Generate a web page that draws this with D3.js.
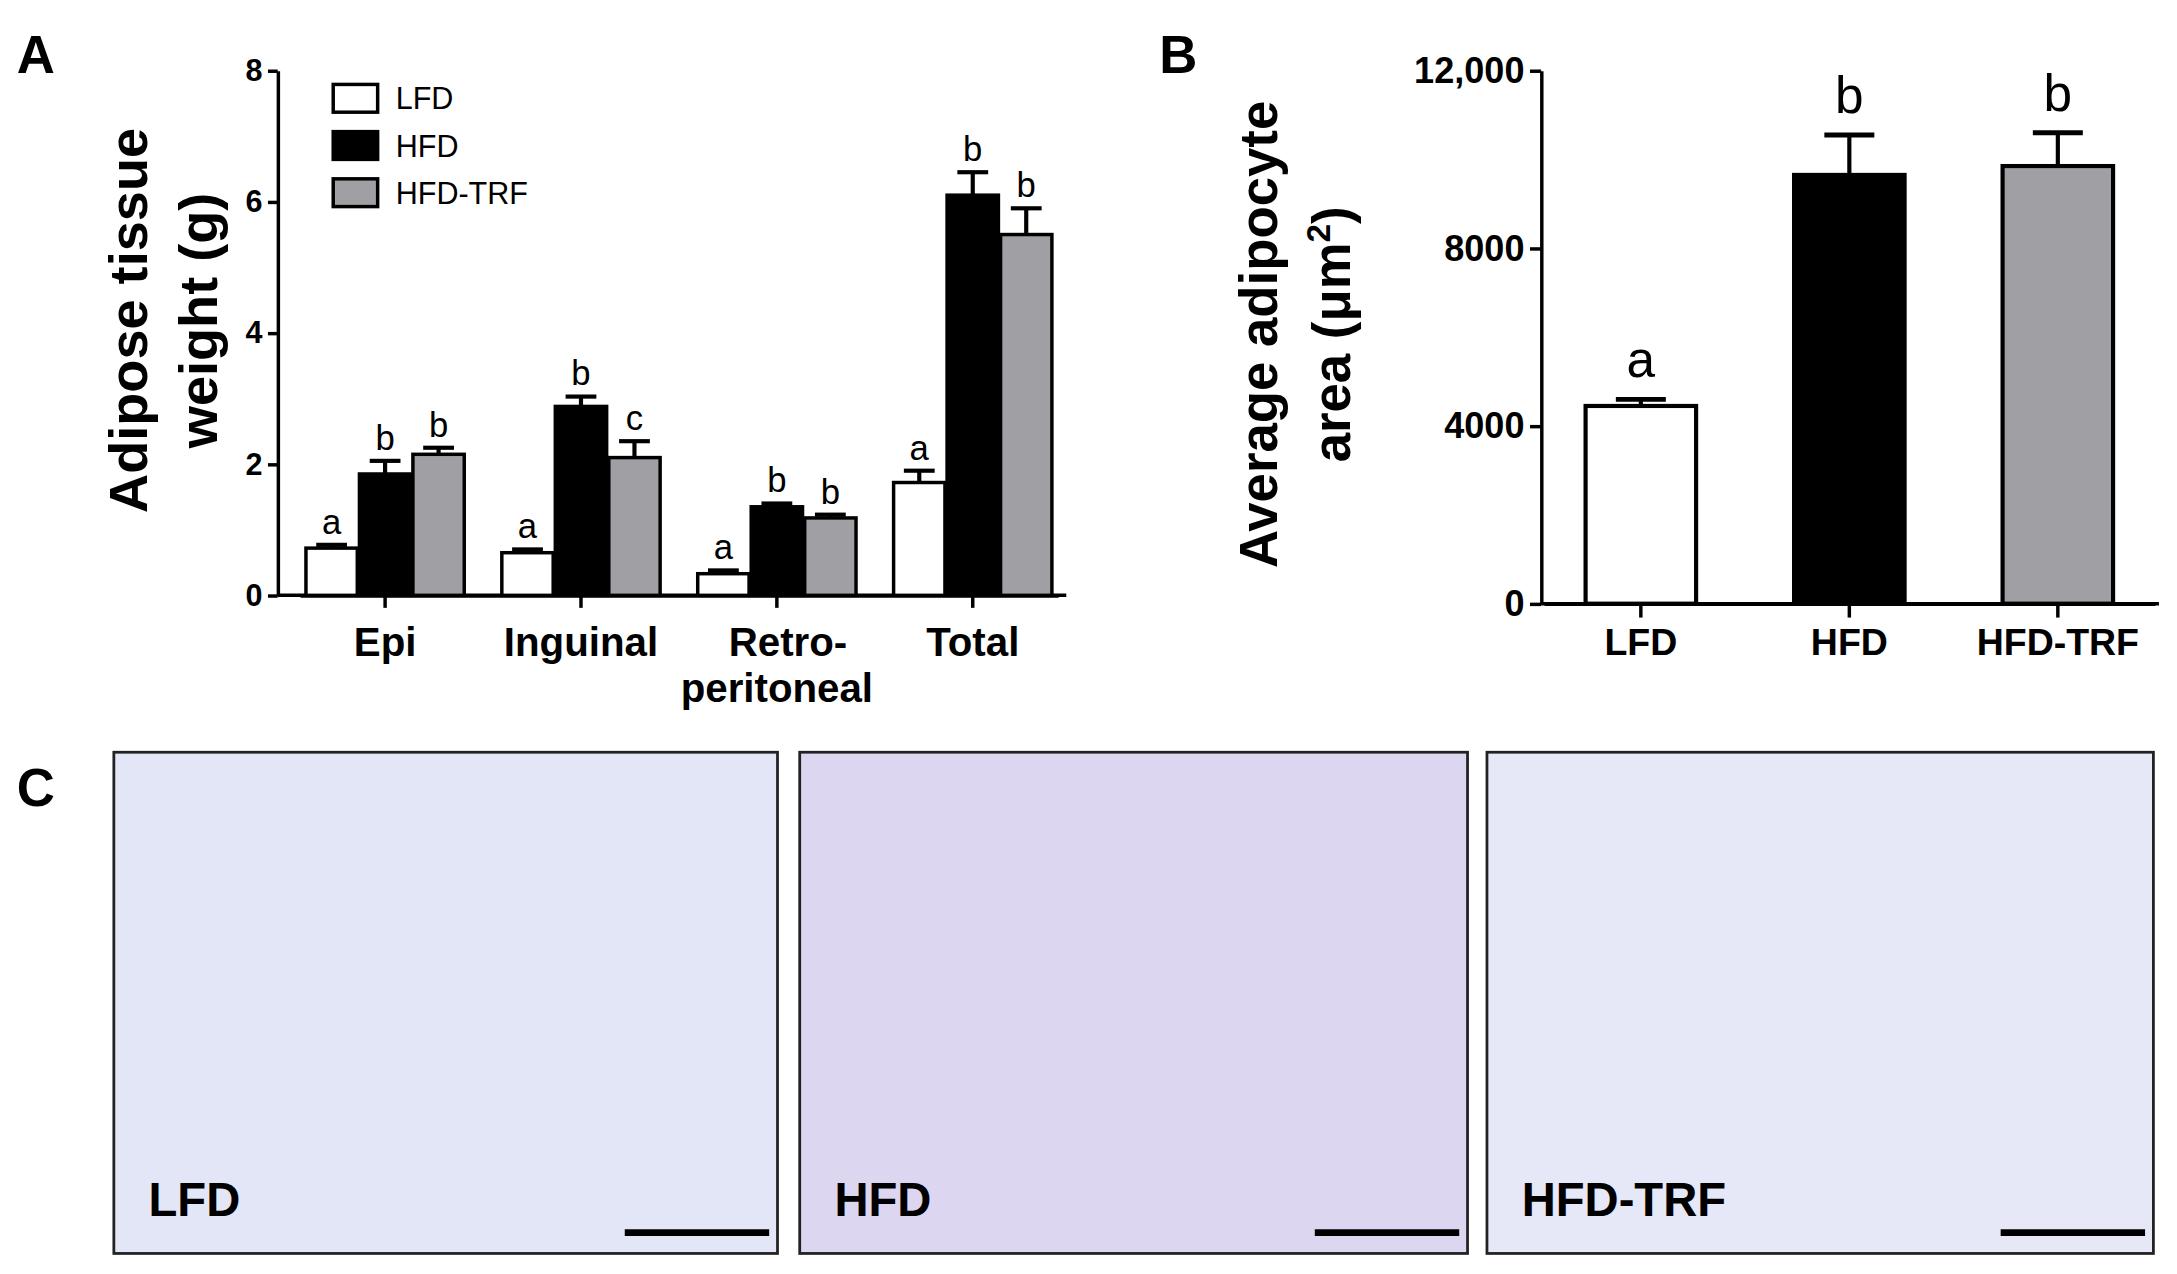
<!DOCTYPE html>
<html>
<head>
<meta charset="utf-8">
<script src="https://d3js.org/d3.v7.min.js"></script>
<style>
  body { margin: 0; background: #fff; }
  text { font-family: "Liberation Sans", Arial, sans-serif; }
</style>
</head>
<body>
<script>
// panel A data
const regions = ["Epi", "Inguinal", "Retro", "Total"];
const groups = ["LFD", "HFD", "HFD-TRF"];
const weightLFD = [0.72, 0.65, 0.33, 1.72];
const weightHFD = [1.85, 2.88, 1.35, 6.1];
const weightTRF = [2.15, 2.1, 1.18, 5.5];
const errLFD = [0.05, 0.05, 0.05, 0.18];
const errHFD = [0.2, 0.15, 0.05, 0.35];
const errTRF = [0.1, 0.25, 0.05, 0.4];
const lettersA = [["a", "b", "b"], ["a", "b", "c"], ["a", "b", "b"], ["a", "b", "b"]];
const ticksA = [0, 2, 4, 6, 8];

// panel B data
const areaMean = [4450, 9650, 9850];
const areaErr = [150, 900, 750];
const lettersB = ["a", "b", "b"];
const ticksB = [0, 4000, 8000, 12000];

const fills = ["#ffffff", "#000000", "#a0a0a4"];

const svg = d3.select("body").append("svg")
  .attr("width", 2177).attr("height", 1274)
  .attr("viewBox", "0 0 1568 916");

function panelLetter(t, x, y) {
  svg.append("text").attr("x", x).attr("y", y).text(t)
    .attr("font-size", 38).attr("font-weight", "bold");
}
panelLetter("A", 12, 52);
panelLetter("B", 835, 52);
panelLetter("C", 12, 580);

// ---- Panel A ----
const gA = svg.append("g");
const yA = d3.scaleLinear().domain([0, 8]).range([428, 50]);
const xA = d3.scaleBand().domain(regions).range([216, 762]).paddingInner(0.17).paddingOuter(0.02);
const xInA = d3.scaleBand().domain(groups).range([0, xA.bandwidth()]).padding(0.04);

gA.append("g").attr("transform", "translate(200,0)")
  .call(d3.axisLeft(yA).tickValues(ticksA).tickSize(7).tickSizeOuter(0).tickPadding(4))
  .call(g => g.selectAll("text").attr("font-size", 22).attr("font-weight", "bold"));
gA.append("g").attr("transform", "translate(0,428)")
  .call(d3.axisBottom(xA).tickSize(9).tickSizeOuter(0).tickFormat(""));
gA.selectAll(".domain, .tick line").attr("stroke", "#000").attr("stroke-width", 2.5);
gA.append("line").attr("x1", 200).attr("x2", 768).attr("y1", 428).attr("y2", 428)
  .attr("stroke", "#000").attr("stroke-width", 2.5);

const seriesA = [weightLFD, weightHFD, weightTRF];
const errsA = [errLFD, errHFD, errTRF];
regions.forEach((r, ri) => {
  groups.forEach((gname, gi) => {
    const v = seriesA[gi][ri], e = errsA[gi][ri];
    const x0 = xA(r) + xInA(gname), w = xInA.bandwidth(), cx = x0 + w / 2;
    gA.append("line").attr("x1", cx).attr("x2", cx).attr("y1", yA(v)).attr("y2", yA(v + e))
      .attr("stroke", "#000").attr("stroke-width", 3);
    gA.append("line").attr("x1", cx - w * 0.3).attr("x2", cx + w * 0.3).attr("y1", yA(v + e)).attr("y2", yA(v + e))
      .attr("stroke", "#000").attr("stroke-width", 3);
    gA.append("rect").attr("x", x0).attr("y", yA(v)).attr("width", w).attr("height", yA(0) - yA(v))
      .attr("fill", fills[gi]).attr("stroke", "#000").attr("stroke-width", 2.5);
    gA.append("text").attr("x", cx).attr("y", yA(v + e) - 8).attr("text-anchor", "middle")
      .attr("font-size", 25).text(lettersA[ri][gi]);
  });
});
const labA = ["Epi", "Inguinal", "Retro-", "Total"];
regions.forEach((r, ri) => {
  gA.append("text").attr("x", xA(r) + xA.bandwidth() / 2 + (ri === 2 ? 8 : 0)).attr("y", 472)
    .attr("text-anchor", "middle").attr("font-size", 29).attr("font-weight", "bold").text(labA[ri]);
});
gA.append("text").attr("x", xA("Retro") + xA.bandwidth() / 2).attr("y", 505)
  .attr("text-anchor", "middle").attr("font-size", 29).attr("font-weight", "bold").text("peritoneal");

const yLabA = gA.append("text").attr("transform", "translate(106,230) rotate(-90)")
  .attr("text-anchor", "middle").attr("font-size", 39).attr("font-weight", "bold");
yLabA.append("tspan").attr("x", 0).attr("dy", 0).text("Adipose tissue");
yLabA.append("tspan").attr("x", 0).attr("dy", 50).text("weight  (g)");

const leg = gA.append("g");
groups.forEach((gname, gi) => {
  leg.append("rect").attr("x", 240).attr("y", 60 + gi * 34).attr("width", 32).attr("height", 20)
    .attr("fill", fills[gi]).attr("stroke", "#000").attr("stroke-width", 2.5);
  leg.append("text").attr("x", 285).attr("y", 78 + gi * 34).attr("font-size", 22).text(gname);
});

// ---- Panel B ----
const gB = svg.append("g");
const yB = d3.scaleLinear().domain([0, 12000]).range([434, 50]);
const xB = d3.scaleBand().domain(groups).range([1112, 1552]).paddingInner(0.47).paddingOuter(0.2);
gB.append("g").attr("transform", "translate(1110,0)")
  .call(d3.axisLeft(yB).tickValues(ticksB).tickSize(8).tickSizeOuter(0).tickPadding(4)
    .tickFormat(d => d === 12000 ? "12,000" : d))
  .call(g => g.selectAll("text").attr("font-size", 26).attr("font-weight", "bold"));
gB.append("g").attr("transform", "translate(0,434)")
  .call(d3.axisBottom(xB).tickSize(10).tickSizeOuter(0).tickPadding(8))
  .call(g => g.selectAll("text").attr("font-size", 27).attr("font-weight", "bold"));
gB.selectAll(".domain, .tick line").attr("stroke", "#000").attr("stroke-width", 2.5);
gB.append("line").attr("x1", 1110).attr("x2", 1555).attr("y1", 434).attr("y2", 434)
  .attr("stroke", "#000").attr("stroke-width", 2.5);

groups.forEach((gname, gi) => {
  const v = areaMean[gi], e = areaErr[gi];
  const x0 = xB(gname), w = xB.bandwidth(), cx = x0 + w / 2;
  gB.append("line").attr("x1", cx).attr("x2", cx).attr("y1", yB(v)).attr("y2", yB(v + e))
    .attr("stroke", "#000").attr("stroke-width", 3);
  gB.append("line").attr("x1", cx - 18).attr("x2", cx + 18).attr("y1", yB(v + e)).attr("y2", yB(v + e))
    .attr("stroke", "#000").attr("stroke-width", 3.5);
  gB.append("rect").attr("x", x0).attr("y", yB(v)).attr("width", w).attr("height", yB(0) - yB(v))
    .attr("fill", fills[gi]).attr("stroke", "#000").attr("stroke-width", 3);
  gB.append("text").attr("x", cx).attr("y", yB(v + e) - 16).attr("text-anchor", "middle")
    .attr("font-size", 37).text(lettersB[gi]);
});
const yLabB = gB.append("text").attr("transform", "translate(920,240) rotate(-90)")
  .attr("text-anchor", "middle").attr("font-size", 38).attr("font-weight", "bold");
yLabB.append("tspan").attr("x", 0).attr("dy", 0).text("Average adipocyte");
yLabB.append("tspan").attr("x", 0).attr("dy", 52).text("area (\u03bcm");
yLabB.append("tspan").attr("dy", -14).attr("font-size", 24).text("2");
yLabB.append("tspan").attr("dy", 14).text(")");

// ---- Panel C: micrograph frames ----
const photos = [
  { name: "LFD", x: 82, w: 478 },
  { name: "HFD", x: 576, w: 481 },
  { name: "HFD-TRF", x: 1071, w: 480 }
];
const tints = ["#e3e6f6", "#dcd6f0", "#e6e8f8"];
photos.forEach((p, i) => {
  svg.append("rect").attr("x", p.x).attr("y", 541).attr("width", p.w).attr("height", 361)
    .attr("fill", tints[i]).attr("stroke", "#222").attr("stroke-width", 2);
  svg.append("text").attr("x", p.x + 25).attr("y", 875).attr("font-size", 34).attr("font-weight", "bold")
    .text(p.name);
  svg.append("line").attr("x1", p.x + p.w - 110).attr("x2", p.x + p.w - 6).attr("y1", 887).attr("y2", 887)
    .attr("stroke", "#000").attr("stroke-width", 5);
});
</script>
</body>
</html>
